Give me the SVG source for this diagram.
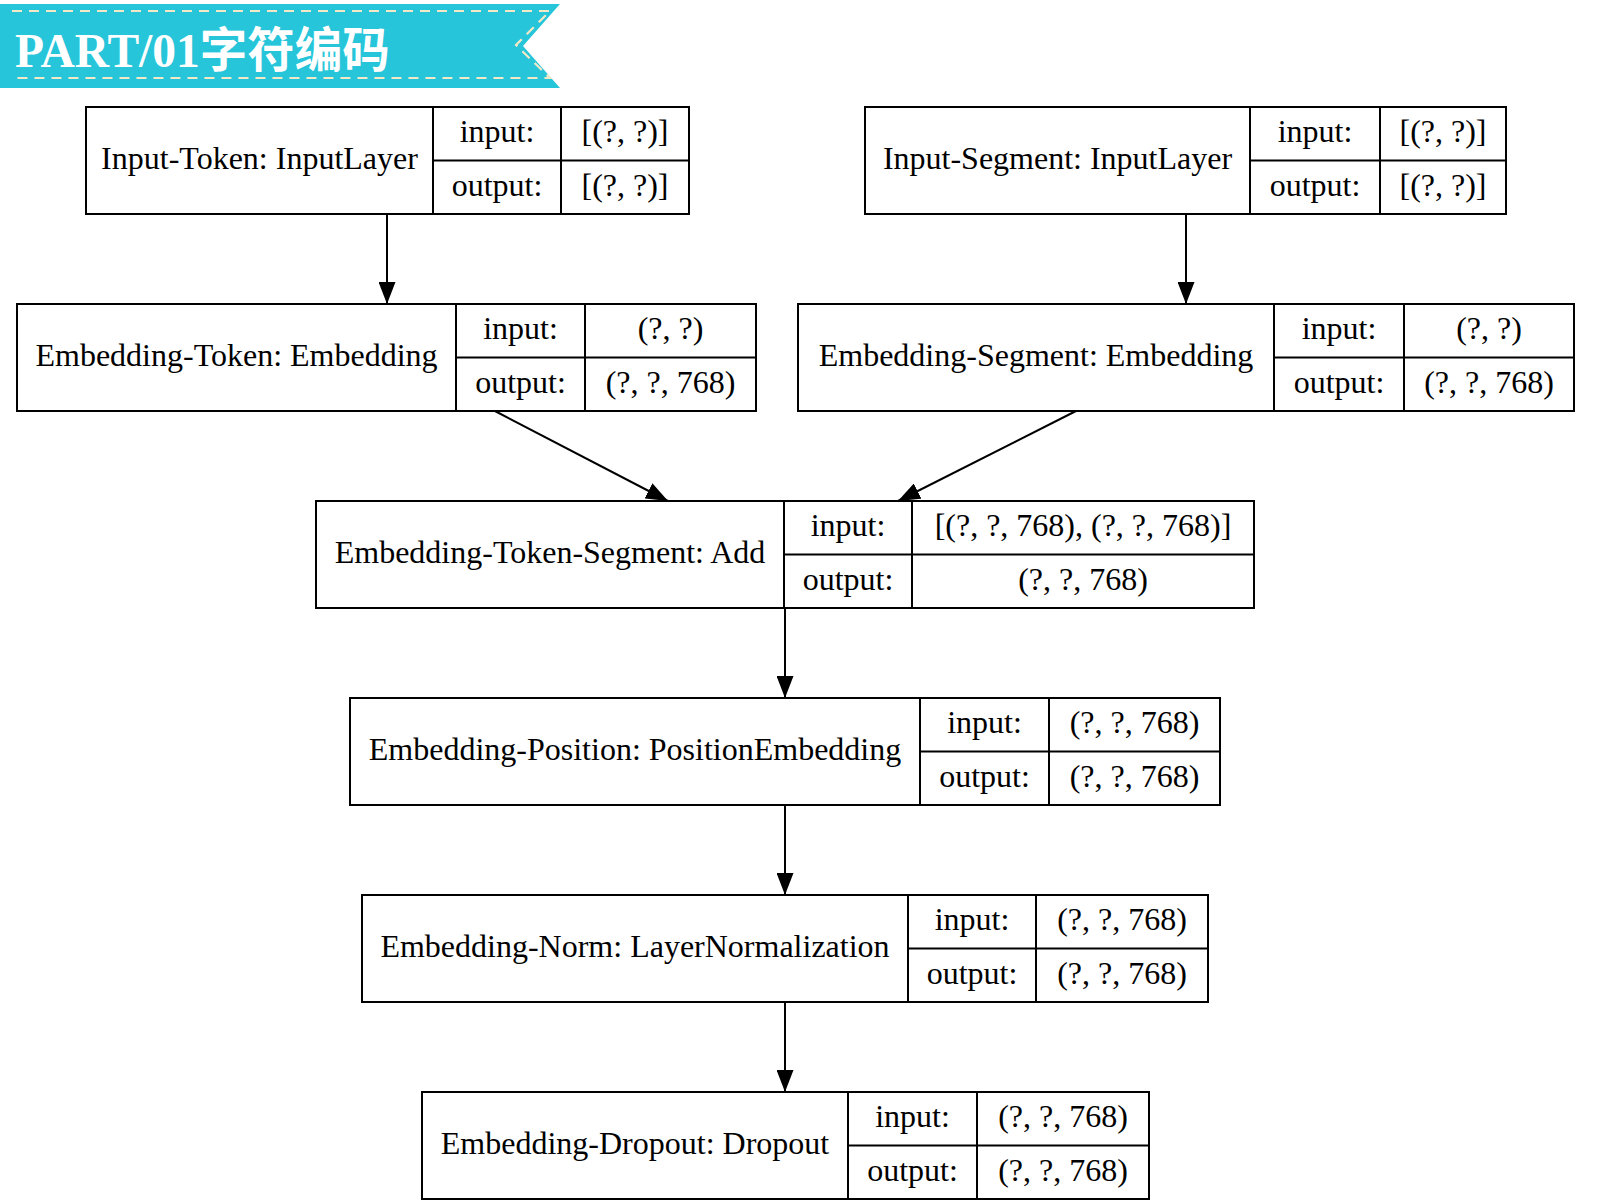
<svg xmlns="http://www.w3.org/2000/svg" width="1600" height="1200" viewBox="0 0 1600 1200">
<style>
.box{fill:#fff;stroke:#000;stroke-width:2}
.div{stroke:#000;stroke-width:2;fill:none}
.t{font-family:"Liberation Serif","Times New Roman",serif;font-size:32px;fill:#000;text-anchor:middle}
.edge{stroke:#000;stroke-width:2;fill:none;marker-end:url(#ah)}
</style>
<defs>
<marker id="ah" viewBox="0 0 22 17" refX="22" refY="8.5" markerWidth="22" markerHeight="17" markerUnits="userSpaceOnUse" orient="auto">
<path d="M0,0 L22,8.5 L0,17 z" fill="#000"/>
</marker>
</defs>
<rect width="1600" height="1200" fill="#fff"/>
<g id="banner">
<polygon points="0,4 560,4 523,46 560,88 0,88" fill="#27C5D9"/>
<path d="M12,11 L550,11 L516,45 L550,78 L12,78" fill="none" stroke="#F3E9C6" stroke-width="2.2" stroke-dasharray="10,7"/>
<text x="15" y="67" font-family="'Liberation Serif','Noto Sans CJK SC',serif" font-weight="bold" font-size="47.5" fill="#fff">PART/01<tspan font-family="'Noto Sans CJK SC',sans-serif">字符编码</tspan></text>
</g>
<g id="connectors">
<line class="edge" x1="387" y1="214" x2="387" y2="304"/>
<line class="edge" x1="1186" y1="214" x2="1186" y2="304"/>
<line class="edge" x1="495" y1="411" x2="668" y2="501"/>
<line class="edge" x1="1076" y1="411" x2="898" y2="501"/>
<line class="edge" x1="785" y1="608" x2="785" y2="698"/>
<line class="edge" x1="785" y1="805" x2="785" y2="895"/>
<line class="edge" x1="785" y1="1002" x2="785" y2="1092"/>
</g>
<g id="input-token">
<rect class="box" x="86" y="107" width="603" height="107"/>
<path class="div" d="M433,107 V214 M561,107 V214 M433,160.5 H689"/>
<text class="t" x="259.5" y="169">Input-Token: InputLayer</text>
<text class="t" x="497" y="142">input:</text>
<text class="t" x="625" y="142">[(?, ?)]</text>
<text class="t" x="497" y="196">output:</text>
<text class="t" x="625" y="196">[(?, ?)]</text>
</g>
<g id="input-segment">
<rect class="box" x="865" y="107" width="641" height="107"/>
<path class="div" d="M1250,107 V214 M1380,107 V214 M1250,160.5 H1506"/>
<text class="t" x="1057.5" y="169">Input-Segment: InputLayer</text>
<text class="t" x="1315" y="142">input:</text>
<text class="t" x="1443" y="142">[(?, ?)]</text>
<text class="t" x="1315" y="196">output:</text>
<text class="t" x="1443" y="196">[(?, ?)]</text>
</g>
<g id="embedding-token">
<rect class="box" x="17" y="304" width="739" height="107"/>
<path class="div" d="M456,304 V411 M585,304 V411 M456,357.5 H756"/>
<text class="t" x="236.5" y="366">Embedding-Token: Embedding</text>
<text class="t" x="520.5" y="339">input:</text>
<text class="t" x="670.5" y="339">(?, ?)</text>
<text class="t" x="520.5" y="393">output:</text>
<text class="t" x="670.5" y="393">(?, ?, 768)</text>
</g>
<g id="embedding-segment">
<rect class="box" x="798" y="304" width="776" height="107"/>
<path class="div" d="M1274,304 V411 M1404,304 V411 M1274,357.5 H1574"/>
<text class="t" x="1036" y="366">Embedding-Segment: Embedding</text>
<text class="t" x="1339" y="339">input:</text>
<text class="t" x="1489" y="339">(?, ?)</text>
<text class="t" x="1339" y="393">output:</text>
<text class="t" x="1489" y="393">(?, ?, 768)</text>
</g>
<g id="embedding-token-segment">
<rect class="box" x="316" y="501" width="938" height="107"/>
<path class="div" d="M784,501 V608 M912,501 V608 M784,554.5 H1254"/>
<text class="t" x="550" y="563">Embedding-Token-Segment: Add</text>
<text class="t" x="848" y="536">input:</text>
<text class="t" x="1083" y="536">[(?, ?, 768), (?, ?, 768)]</text>
<text class="t" x="848" y="590">output:</text>
<text class="t" x="1083" y="590">(?, ?, 768)</text>
</g>
<g id="embedding-position">
<rect class="box" x="350" y="698" width="870" height="107"/>
<path class="div" d="M920,698 V805 M1049,698 V805 M920,751.5 H1220"/>
<text class="t" x="635" y="760">Embedding-Position: PositionEmbedding</text>
<text class="t" x="984.5" y="733">input:</text>
<text class="t" x="1134.5" y="733">(?, ?, 768)</text>
<text class="t" x="984.5" y="787">output:</text>
<text class="t" x="1134.5" y="787">(?, ?, 768)</text>
</g>
<g id="embedding-norm">
<rect class="box" x="362" y="895" width="846" height="107"/>
<path class="div" d="M908,895 V1002 M1036,895 V1002 M908,948.5 H1208"/>
<text class="t" x="635" y="957">Embedding-Norm: LayerNormalization</text>
<text class="t" x="972" y="930">input:</text>
<text class="t" x="1122" y="930">(?, ?, 768)</text>
<text class="t" x="972" y="984">output:</text>
<text class="t" x="1122" y="984">(?, ?, 768)</text>
</g>
<g id="embedding-dropout">
<rect class="box" x="422" y="1092" width="727" height="107"/>
<path class="div" d="M848,1092 V1199 M977,1092 V1199 M848,1145.5 H1149"/>
<text class="t" x="635" y="1154">Embedding-Dropout: Dropout</text>
<text class="t" x="912.5" y="1127">input:</text>
<text class="t" x="1063" y="1127">(?, ?, 768)</text>
<text class="t" x="912.5" y="1181">output:</text>
<text class="t" x="1063" y="1181">(?, ?, 768)</text>
</g>
</svg>
